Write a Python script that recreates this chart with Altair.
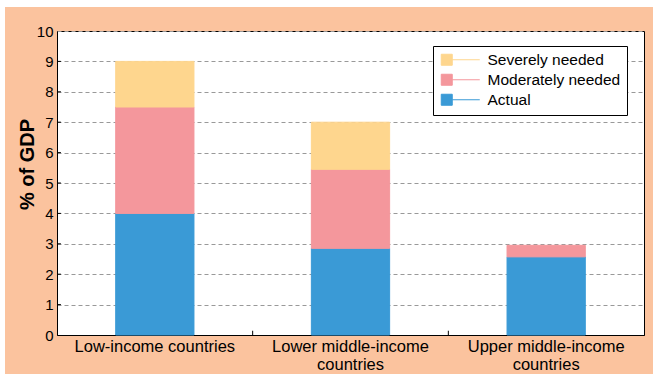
import altair as alt
import pandas as pd

# ---- data ----
category_labels = ["Low-income countries",
                   "Lower middle-income\ncountries",
                   "Upper middle-income\ncountries"]
actual = [4.0, 2.85, 2.57]
moderately = [3.5, 2.6, 0.38]
severely = [1.5, 1.55, 0.0]
series = ["Actual", "Moderately needed", "Severely needed"]
legend_order = ["Severely needed", "Moderately needed", "Actual"]
legend_colors = ["#FED68E", "#F4979C", "#3A9AD6"]
y_ticks = [0, 1, 2, 3, 4, 5, 6, 7, 8, 9, 10]

rows = []
for i, c in enumerate(category_labels):
    for j, (s, vals) in enumerate(zip(series, [actual, moderately, severely])):
        if vals[i] > 0:
            rows.append({"category": c, "series": s, "value": vals[i], "order": j})
df = pd.DataFrame(rows)

# inward tick marks (band boundaries on a 0..3 unit scale, and y gridline values)
tick_x = [1, 2] + [0] * 9
tick_x2 = [1, 2] + [0.02] * 9
tick_y = [0, 0] + list(range(1, 10))
tick_y2 = [0.14, 0.14] + list(range(1, 10))
ticks_df = pd.DataFrame({"x": tick_x, "x2": tick_x2, "y": tick_y, "y2": tick_y2})

W, H = 587, 304
FONT = "Liberation Sans"

color_scale = alt.Scale(domain=legend_order, range=legend_colors)
legend = alt.Legend(
    title=None, orient="none", legendX=376, legendY=15,
    fillColor="white", strokeColor="black", padding=6,
    symbolType="M-1,-1H1V1H-1Z M1,0H6", symbolSize=121, symbolStrokeWidth=1,
    labelFont=FONT, labelFontSize=15.5, labelColor="black", labelOffset=33,
    rowPadding=3, labelLimit=300,
)

y_axis = alt.Axis(values=y_ticks, title="% of GDP", titleFont=FONT,
                  titleFontSize=20, titleFontWeight="bold", titleColor="black",
                  titleX=-30, titleY=133, titleAngle=270, titleAlign="center",
                  titleBaseline="middle",
                  grid=True, gridDash=[4, 3], gridColor="#999999",
                  tickSize=0, labelPadding=4, labelFont=FONT,
                  labelFontSize=15, labelColor="black", domainColor="black")
y_scale = alt.Scale(domain=[0, 10], nice=False)

bars = alt.Chart(df).mark_bar(strokeWidth=1).encode(
    x=alt.X("category:N", sort=category_labels,
            scale=alt.Scale(paddingInner=0.6, paddingOuter=0.3),
            axis=alt.Axis(title=None, labelExpr="split(datum.label, '\\n')",
                          labelAngle=0, labelFont=FONT, labelFontSize=16.5,
                          labelColor="black", labelPadding=3, labelLineHeight=18,
                          tickSize=0, domainColor="black", labelBaseline="top")),
    y=alt.Y("value:Q", stack="zero", scale=y_scale, axis=y_axis),
    fill=alt.Fill("series:N", scale=color_scale, legend=legend),
    stroke=alt.Stroke("series:N", scale=color_scale, legend=legend),
    order=alt.Order("order:Q", sort="ascending"),
)

ticks = alt.Chart(ticks_df).mark_rule(color="black", strokeWidth=1).encode(
    x=alt.X("x:Q", scale=alt.Scale(domain=[0, 3], nice=False), axis=None),
    x2="x2",
    y=alt.Y("y:Q", scale=y_scale, axis=y_axis),
    y2="y2",
)

dummy = pd.DataFrame({"a": [0]})
strip_top = alt.Chart(dummy).mark_rect(color="white").encode(
    x=alt.value(-57), x2=alt.value(W + 9), y=alt.value(-31), y2=alt.value(-24))
strip_left = alt.Chart(dummy).mark_rect(color="white").encode(
    x=alt.value(-57), x2=alt.value(-52), y=alt.value(-31), y2=alt.value(H + 39))

chart = alt.layer(strip_top, strip_left, bars, ticks).resolve_scale(
    x="independent"
).properties(
    width=W, height=H,
    autosize=alt.AutoSizeParams(type="none"),
    padding={"left": 57, "top": 31, "right": 9, "bottom": 39},
    background="#FBC39E",
).configure_view(fill="white", stroke="black", strokeWidth=1)

chart.save("out.html", embed_options={"renderer": "svg", "actions": False})
